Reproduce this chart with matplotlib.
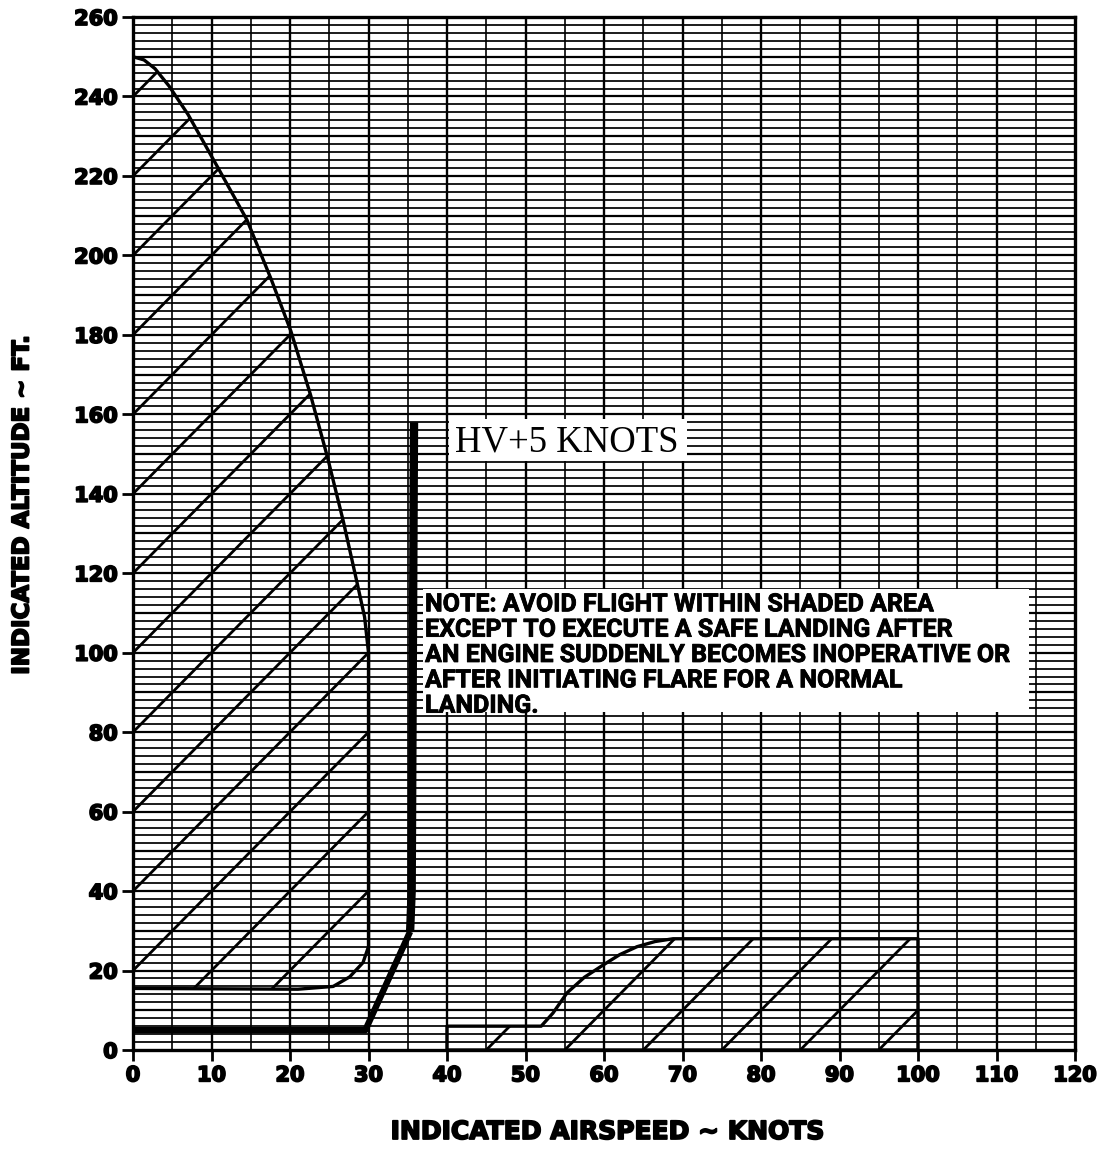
import numpy as np
import matplotlib
matplotlib.use("Agg")
import matplotlib.pyplot as plt
import matplotlib.patheffects as pe
from matplotlib import font_manager
from matplotlib.patches import Polygon, Rectangle

# ---------------- data ----------------
x_ticks = [0, 10, 20, 30, 40, 50, 60, 70, 80, 90, 100, 110, 120]
y_ticks = [0, 20, 40, 60, 80, 100, 120, 140, 160, 180, 200, 220, 240, 260]

# upper-left avoid region boundary (knots, ft)
ul_x = [0, 1.4, 2.8, 4.6, 7.0, 10.7, 14.5, 17.6, 20.1, 22.6, 24.8, 26.8, 28.5, 29.5, 30.0,
        30.0, 29.3, 27.6, 25.5, 21.0, 0]
ul_y = [250, 249.2, 247.0, 242.6, 235.5, 222.5, 209, 194, 181, 165, 149, 133, 118, 109, 100,
        26, 22, 18.4, 16, 15.3, 15.5]
ul_hatch_offsets = [-20, 0, 20, 40, 60, 80, 100, 120, 140, 160, 180, 200, 220, 240]

# lower-right avoid region boundary
lr_x = [40, 40, 52, 53.5, 55.3, 57.5, 59.9, 62.0, 64.2, 66.5, 68.8, 100, 100]
lr_y = [0, 6, 6, 9.3, 14.4, 18.3, 21.4, 24.0, 26.0, 27.3, 28, 28, 0]
lr_hatch_starts = [45, 55, 65, 75, 85, 95]
hatch_slope = 2.0

# HV + 5 knots line
hv_x = [0, 29.6, 35.3]
hv_y = [5, 5, 29.8]
hv_vert_x = [35.3, 35.5, 35.8]
hv_vert_y = [29.8, 40, 158]

note_text = ("NOTE: AVOID FLIGHT WITHIN SHADED AREA\n"
             "EXCEPT TO EXECUTE A SAFE LANDING AFTER\n"
             "AN ENGINE SUDDENLY BECOMES INOPERATIVE OR\n"
             "AFTER INITIATING FLARE FOR A NORMAL\n"
             "LANDING.")

# ---------------- fonts ----------------
names = {f.name for f in font_manager.fontManager.ttflist}
if 'Liberation Sans Narrow' in names:
    note_family, note_size = ['Liberation Sans Narrow'], 19
else:
    note_family, note_size = ['Roboto', 'DejaVu Sans'], 18
heavy_family = ['DejaVu Sans']
heavy_fx = [pe.withStroke(linewidth=1.3, foreground='black')]

# ---------------- figure ----------------
fig = plt.figure(figsize=(11.02, 11.54), dpi=100)
fig.patch.set_facecolor('white')
ax = fig.add_axes([0.12069, 0.09012, 0.85481, 0.89515])
ax.set_xlim(0, 120)
ax.set_ylim(0, 260)

# grid
ax.hlines(np.arange(2, 260, 2), 0, 120, colors='black', lw=1.25, zorder=1)
ax.hlines(np.arange(10, 260, 10), 0, 120, colors='black', lw=1.6, zorder=1)
ax.vlines(np.arange(5, 120, 10), 0, 260, colors='black', lw=1.2, zorder=1)
ax.vlines(np.arange(10, 120, 10), 0, 260, colors='black', lw=1.7, zorder=1)

# upper-left region
ul_poly = Polygon(np.column_stack([ul_x, ul_y]), closed=True, fill=False,
                  edgecolor='black', lw=2.4, zorder=4, joinstyle='round')
ax.add_patch(ul_poly)
clip_ul = Polygon(np.column_stack([ul_x, ul_y]), closed=True, fill=False,
                  edgecolor='none', transform=ax.transData)
xs = np.array([0, 40])
for c in ul_hatch_offsets:
    ln, = ax.plot(xs, hatch_slope * xs + c, color='black', lw=2.0, zorder=3)
    ln.set_clip_path(clip_ul)

# lower-right region
lr_poly = Polygon(np.column_stack([lr_x, lr_y]), closed=True, fill=False,
                  edgecolor='black', lw=2.4, zorder=4, joinstyle='round')
ax.add_patch(lr_poly)
clip_lr = Polygon(np.column_stack([lr_x, lr_y]), closed=True, fill=False,
                  edgecolor='none', transform=ax.transData)
xs2 = np.array([30, 110])
for x0 in lr_hatch_starts:
    ln, = ax.plot(xs2, hatch_slope * (xs2 - x0), color='black', lw=2.0, zorder=3)
    ln.set_clip_path(clip_lr)

# HV+5 line
ax.plot(hv_x, hv_y, color='black', lw=4.6, solid_capstyle='butt',
        solid_joinstyle='round', zorder=5)
ax.plot(hv_vert_x, hv_vert_y, color='black', lw=6.0, solid_capstyle='butt', zorder=5)

# labels in boxes
ax.add_patch(Rectangle((40.3, 148.2), 30.3, 10.6, facecolor='white', edgecolor='none', zorder=6))
ax.text(41.0, 150.6, "HV+5 KNOTS", family=['Liberation Serif', 'DejaVu Serif'],
        fontsize=26.5, color='black', ha='left', va='baseline', zorder=7)

ax.add_patch(Rectangle((36.9, 85.0), 77.3, 31.0, facecolor='white', edgecolor='none', zorder=6))
ax.text(37.2, 115.2, note_text, family=note_family, fontweight='bold',
        fontsize=note_size, color='black', ha='left', va='top', linespacing=1.07, zorder=7,
        path_effects=[pe.withStroke(linewidth=0.6, foreground='black')])

# spines
for s in ax.spines.values():
    s.set_linewidth(2.4)
    s.set_zorder(8)

ax.set_xticks(x_ticks)
ax.set_yticks(y_ticks)
ax.tick_params(axis='both', direction='out', length=8, width=2, color='black', pad=3)
for lab in ax.get_xticklabels() + ax.get_yticklabels():
    lab.set_family(heavy_family)
    lab.set_fontweight('bold')
    lab.set_fontsize(15)
    lab.set_path_effects(heavy_fx)

fig.text(607 / 1102, 1 - 1132 / 1154, "INDICATED AIRSPEED ~ KNOTS", family=heavy_family,
         fontweight='bold', fontsize=18, ha='center', va='center', path_effects=heavy_fx)
fig.text(22 / 1102, 1 - 505 / 1154, "INDICATED ALTITUDE ~ FT.", family=heavy_family,
         fontweight='bold', fontsize=16.5, ha='center', va='center', rotation=90,
         path_effects=heavy_fx)

fig.savefig('out.png', dpi=100)
